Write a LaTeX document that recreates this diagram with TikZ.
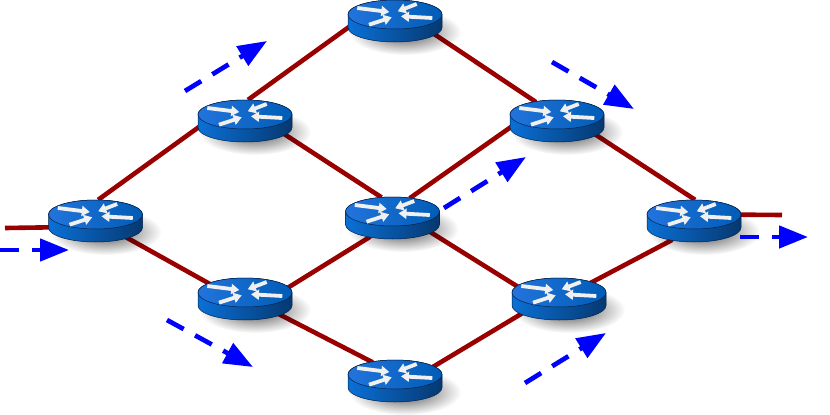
\documentclass[tikz,border=0pt]{standalone}
\usetikzlibrary{arrows.meta,shapes.geometric,fadings}
\definecolor{wirered}{RGB}{153,0,0}
\definecolor{topleft}{RGB}{34,116,220}
\definecolor{topright}{RGB}{0,92,182}
\definecolor{sideleft}{RGB}{10,112,214}
\definecolor{sidemid}{RGB}{8,100,196}
\definecolor{sideright}{RGB}{6,56,112}
\definecolor{rimline}{RGB}{4,32,72}
\tikzfading[name=softblob,inner color=transparent!30,outer color=transparent!100]
\tikzset{
  hub/.style={ellipse,inner sep=0pt,minimum width=94pt,minimum height=42pt},
  wire/.style={wirered,line width=4.6pt},
  flow/.style={blue,line width=4.7pt,dash pattern=on 19pt off 13pt,-{Triangle[length=29pt,width=22pt]}},
  mark arrow/.style={white!88!gray,line width=3.8pt,-{Triangle[length=8pt,width=10pt]}},
  router/.pic={
    \fill[black,path fading=softblob] (10,11) ellipse (56 and 23);
    \draw[rimline,line width=0.5pt,left color=sideleft,middle color=sidemid,right color=sideright]
      (-47,-6.5) -- (-47,6.5) arc[start angle=180,end angle=0,x radius=47,y radius=14.5] -- (47,-6.5)
      arc[start angle=0,end angle=-180,x radius=47,y radius=14.5] -- cycle;
    \draw[rimline,line width=0.5pt,left color=topleft,right color=topright]
      (0,-6.5) ellipse (47 and 14.5);
    \draw[mark arrow] (-37.7,-13) -- (-5.7,-9);
    \draw[mark arrow] (21.7,-17) -- (2.7,-9.7);
    \draw[mark arrow] (37.3,-3) -- (6,-4.7);
    \draw[mark arrow] (-26,3.7) -- (-3.3,-3.7);
  }
}
\begin{document}
\begin{tikzpicture}[x=1pt,y=-1pt]
\useasboundingbox (0,0) rectangle (830,415);

\foreach \name/\x/\y in {rtop/395/21,rup/245/121,rright/557/121,rleft/95.5/221,rmid/392.5/218,
  rend/694/221,rlow/245/299,rfar/559/299,rbot/395/381}
  \node[hub] (\name) at (\x,\y) {};

\coordinate (wirein) at (5,228);
\coordinate (wireout) at (782,215);

\draw[wire] (wirein) -- (rleft.188);
\draw[wire] (rleft.83) -- (rup.187.6);
\draw[wire] (rleft.-28) -- (rlow.157);
\draw[wire] (rup.82) -- (rtop.187.4);
\draw[wire] (rup.-18) -- (rmid.118);
\draw[wire] (rtop.-18.4) -- (rright.138);
\draw[wire] (rright.187.5) -- (rmid.49);
\draw[wire] (rright.-19) -- (rend.87);
\draw[wire] (rlow.14) -- (rmid.220);
\draw[wire] (rmid.-20) -- (rfar.164);
\draw[wire] (rlow.-24) -- (rbot.140);
\draw[wire] (rbot.20) -- (rfar.201);
\draw[wire] (rfar.27) -- (rend.221);
\draw[wire] (rend.8) -- (wireout);

\foreach \name in {rtop,rup,rright,rleft,rmid,rend,rlow,rfar,rbot}
  \pic at (\name) {router};

\coordinate (fa0) at (0,250);    \coordinate (fa1) at (69,250);
\coordinate (fb0) at (185,91);   \coordinate (fb1) at (267,41);
\coordinate (fc0) at (167,320);  \coordinate (fc1) at (253,367);
\coordinate (fd0) at (444,208);  \coordinate (fd1) at (526,157);
\coordinate (fe0) at (552,62);   \coordinate (fe1) at (634,109);
\coordinate (ff0) at (525,383);  \coordinate (ff1) at (606,333);
\coordinate (fg0) at (740,237);  \coordinate (fg1) at (808,237);

\foreach \f in {fa,fb,fc,fd,fe,ff,fg}
  \draw[flow] (\f0) -- (\f1);
\end{tikzpicture}
\end{document}
